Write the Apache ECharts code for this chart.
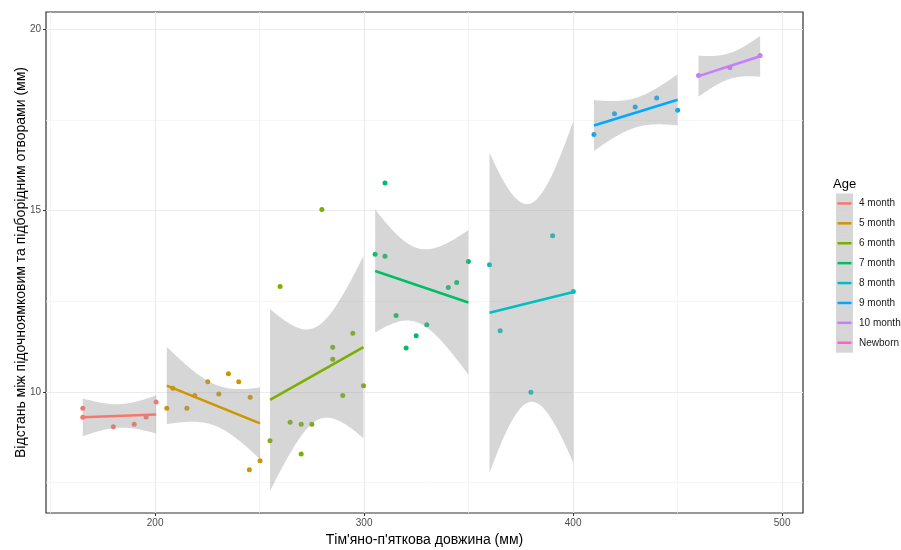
<!DOCTYPE html>
<html><head><meta charset="utf-8">
<script src="https://cdn.jsdelivr.net/npm/echarts@6/dist/echarts.min.js"></script>
<style>html,body{margin:0;padding:0;background:#fff}#c{width:901px;height:550px}</style>
</head><body><div id="c"></div>
<script>
// ---- data ----
const groupNames  = ['4 month','5 month','6 month','7 month','8 month','9 month','10 month','Newborn'];
const groupColors = ['#F8766D','#CD9600','#7CAE00','#00BE67','#00BFC4','#00A9FF','#C77CFF','#FF61CC'];

const x4m = [165.4,165.4,180.0,190.0,195.7,200.5];
const y4m = [9.55, 9.30, 9.04, 9.11, 9.31, 9.72];
const x5m = [205.6,208.5,215.2,219.0,225.2,230.5,235.1,240.0,245.5,250.2,245.1];
const y5m = [9.55, 10.10,9.55, 9.90, 10.28,9.94, 10.50,10.28,9.85, 8.10, 7.85];
const x6m = [255.0,259.8,264.6,269.9,275.0,269.9,279.8,285.0,285.0,289.8,294.6,299.7];
const y6m = [8.65, 12.91,9.16, 9.11, 9.11, 8.29, 15.03,11.23,10.90,9.90, 11.62,10.17];
const x7m = [305.3,310.0,310.0,315.3,320.1,324.9,330.0,340.3,344.3,349.9];
const y7m = [13.80,13.74,15.76,12.11,11.21,11.55,11.85,12.88,13.02,13.60];
const x8m = [360.0,365.1,379.8,390.2,400.1];
const y8m = [13.51,11.69,9.99, 14.31,12.77];
const x9m = [410.0,419.8,429.7,440.0,450.0];
const y9m = [17.10,17.67,17.86,18.11,17.77];
const x10m = [460.0,475.0,489.5];
const y10m = [18.73,18.95,19.28];

const xTicks = [200,300,400,500];
const xMinor = [150,250,350,450];
const yTicks = [10,15,20];
const yMinor = [7.5,12.5,17.5];
const xTitle = "Тім'яно-п'яткова довжина (мм)";
const yTitle = "Відстань між підочноямковим та підборідним отворами (мм)";
const legendTitle = 'Age';

// Student t 0.975 quantiles, df = 1..14
const T975 = [12.706,4.303,3.182,2.776,2.571,2.447,2.365,2.306,2.262,2.228,2.201,2.179,2.160,2.145];

const groups = [
  {xs:x4m, ys:y4m, c:0},{xs:x5m, ys:y5m, c:1},{xs:x6m, ys:y6m, c:2},{xs:x7m, ys:y7m, c:3},
  {xs:x8m, ys:y8m, c:4},{xs:x9m, ys:y9m, c:5},{xs:x10m, ys:y10m, c:6}
];

function lmFit(xs, ys){
  const n = xs.length;
  const mx = xs.reduce((a,b)=>a+b,0)/n, my = ys.reduce((a,b)=>a+b,0)/n;
  let sxx=0, sxy=0;
  for (let i=0;i<n;i++){ sxx+=(xs[i]-mx)**2; sxy+=(xs[i]-mx)*(ys[i]-my); }
  const b = sxy/sxx, a = my - b*mx;
  let sse=0; for (let i=0;i<n;i++){ sse += (ys[i]-(a+b*xs[i]))**2; }
  const s = Math.sqrt(sse/(n-2)), t = T975[n-3];
  const lo = Math.min(...xs), hi = Math.max(...xs);
  const band = [];
  const N = 80;
  for (let k=0;k<N;k++){
    const x = lo + (hi-lo)*k/(N-1);
    const f = a + b*x;
    const se = s*Math.sqrt(1/n + (x-mx)**2/sxx);
    band.push([x, f - t*se, f + t*se, f]);
  }
  return {band, line:[[lo,a+b*lo],[hi,a+b*hi]]};
}
const fits = groups.map(g => lmFit(g.xs, g.ys));

const FONT = "'Liberation Sans', Arial, sans-serif";
const series = [];
groups.forEach((g,i)=>{
  series.push({
    type:'scatter', name:groupNames[g.c], data:g.xs.map((x,k)=>[x,g.ys[k]]),
    symbolSize:5, itemStyle:{color:groupColors[g.c], opacity:1}, z:2, silent:true
  });
});
series.push({
  type:'custom', clip:true, z:3, silent:true,
  data: fits.map(f => [f.band[0][0], f.band[0][3]]),
  renderItem: function(params, api){
    const f = fits[params.dataIndex];
    const pts = [];
    for (const p of f.band) pts.push(api.coord([p[0], p[2]]));
    for (let k=f.band.length-1;k>=0;k--) pts.push(api.coord([f.band[k][0], f.band[k][1]]));
    return {type:'polygon', shape:{points:pts}, style:{fill:'rgba(153,153,153,0.4)'}};
  }
});
groups.forEach((g,i)=>{
  series.push({
    type:'line', data:fits[i].line, showSymbol:false, symbol:'none', z:4, silent:true,
    lineStyle:{color:groupColors[g.c], width:2.5}
  });
});

// legend + y title as graphics
const graphics = [];
graphics.push({type:'text', x:21, y:262.5, rotation:Math.PI/2,
  style:{text:yTitle, font:'14px '+FONT, fill:'#000', align:'center', verticalAlign:'middle'}});
const keyX = 836, keyY0 = 193.5, keyH = 19.9;
graphics.push({type:'text', left:833, top:178, style:{text:legendTitle, font:'13px '+FONT, fill:'#000'}});
groupNames.forEach((nm,i)=>{
  const cy = keyY0 + keyH*i + keyH/2;
  graphics.push({type:'rect', shape:{x:keyX, y:keyY0+keyH*i, width:17, height:keyH}, style:{fill:'rgba(153,153,153,0.4)'}});
  graphics.push({type:'line', shape:{x1:keyX+1.5, y1:cy, x2:keyX+15.5, y2:cy}, style:{stroke:groupColors[i], lineWidth:2.5}});
  graphics.push({type:'text', x:859, y:cy, style:{text:nm, font:'10px '+FONT, fill:'#1a1a1a', verticalAlign:'middle', align:'left'}});
});

const XMIN=147.8, XMAX=510, YMIN=6.66, YMAX=20.48;
const chart = echarts.init(document.getElementById('c'), null, {renderer:'canvas'});
chart.setOption({
  animation:false,
  backgroundColor:'#fff',
  grid:{left:46, right:98, top:12, bottom:37, containLabel:false, outerBoundsMode:'none', show:true, borderColor:'#333', borderWidth:1.2, backgroundColor:'transparent'},
  xAxis:[
    {type:'value', min:XMIN, max:XMAX, position:'bottom',
     name:xTitle, nameLocation:'middle', nameGap:17, nameTextStyle:{fontFamily:FONT, fontSize:14, color:'#000'},
     axisLine:{show:false},
     axisTick:{show:true, length:3, customValues:xTicks, lineStyle:{color:'#333', width:1}},
     axisLabel:{customValues:xTicks, fontFamily:FONT, fontSize:10, color:'#4D4D4D', margin:5},
     splitLine:{show:true, lineStyle:{color:'#EBEBEB', width:1.2}}},
    {type:'value', min:XMIN, max:XMAX, position:'bottom',
     axisLine:{show:false}, axisLabel:{show:false},
     axisTick:{show:false, customValues:xMinor},
     splitLine:{show:true, lineStyle:{color:'#F2F2F2', width:0.7}}}
  ],
  yAxis:[
    {type:'value', min:YMIN, max:YMAX, position:'left',
     axisLine:{show:false},
     axisTick:{show:true, length:3, customValues:yTicks, lineStyle:{color:'#333', width:1}},
     axisLabel:{customValues:yTicks, fontFamily:FONT, fontSize:10, color:'#4D4D4D', margin:5},
     splitLine:{show:true, lineStyle:{color:'#EBEBEB', width:1.2}}},
    {type:'value', min:YMIN, max:YMAX, position:'left',
     axisLine:{show:false}, axisLabel:{show:false},
     axisTick:{show:false, customValues:yMinor},
     splitLine:{show:true, lineStyle:{color:'#F2F2F2', width:0.7}}}
  ],
  series: series,
  graphic: graphics
});
</script>
</body></html>
